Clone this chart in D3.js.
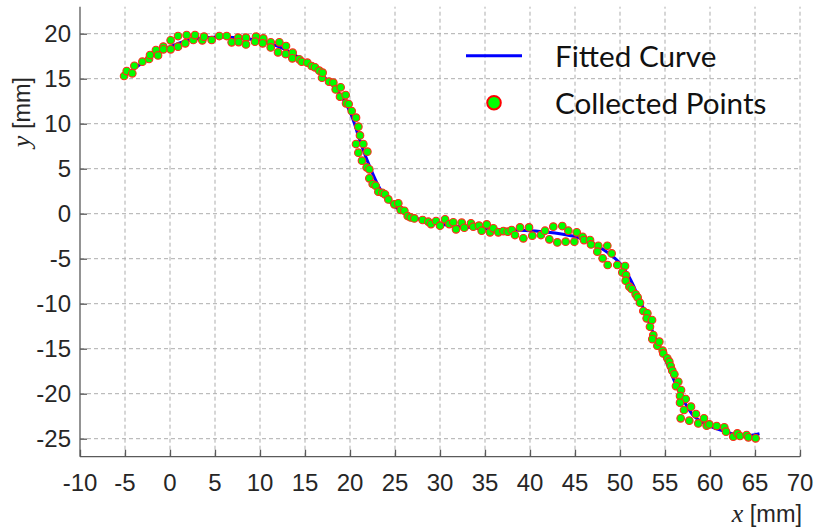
<!DOCTYPE html>
<html>
<head>
<meta charset="utf-8">
<script src="https://cdn.jsdelivr.net/npm/d3@7"></script>
<style>
  html, body { margin: 0; padding: 0; background: #fff; }
  svg { display: block; }
</style>
</head>
<body>
<svg id="chart" width="817" height="529"></svg>
<script>
// Axis ticks
const xTicks = [-10, -5, 0, 5, 10, 15, 20, 25, 30, 35, 40, 45, 50, 55, 60, 65, 70];
const yTicks = [20, 15, 10, 5, 0, -5, -10, -15, -20, -25];

// Fitted curve samples [x, y] in mm
const curvePoints = [
  [-5.2, 15.15], [-4, 16.1], [-3, 16.8], [-2, 17.5], [-1, 18.1], [0, 18.55], [1, 18.95],
  [2, 19.25], [3, 19.45], [4, 19.58], [5, 19.62], [6, 19.62], [7, 19.58], [8, 19.5],
  [9, 19.38], [10, 19.2], [11, 18.95], [12, 18.6], [13, 18.15], [14, 17.55], [15, 16.9],
  [16, 16.15], [17, 15.3], [18, 14.35], [19, 13.1], [19.5, 12.3], [20, 11.3], [20.5, 10.0],
  [21, 8.4], [21.5, 7.0], [22, 5.7], [22.5, 4.5], [23, 3.4], [23.5, 2.5], [24, 1.8],
  [24.5, 1.25], [25, 0.8], [26, 0.1], [27, -0.35], [28, -0.7], [29, -0.95], [30, -1.15],
  [32, -1.4], [34, -1.6], [36, -1.72], [38, -1.82], [40, -1.9], [42, -2.05], [43.5, -2.25],
  [45, -2.55], [46, -2.9], [47, -3.3], [48, -3.9], [49, -4.6], [50, -5.5], [50.5, -6.2],
  [51, -7.0], [51.5, -8.0], [52, -9.2], [52.5, -10.3], [53, -11.5], [53.5, -12.8],
  [54, -14.0], [54.5, -15.1], [55, -16.1], [55.5, -17.3], [56, -18.5], [56.5, -19.6],
  [57, -20.6], [57.5, -21.5], [58, -22.25], [58.5, -22.75], [59, -23.1], [60, -23.6],
  [61, -24.0], [62, -24.3], [63, -24.55], [64, -24.65], [65, -24.55], [65.5, -24.45]
];

// Collected points [x, y] in mm
const collectedPoints = [
  [-5.1, 15.3], [-4.81, 15.85], [-4.19, 15.6], [-3.96, 16.44], [-3.07, 16.89], [-2.33, 17.19],
  [-2.22, 17.63], [-1.56, 18.19], [-1.33, 17.59], [-0.74, 18.56], [-0.74, 18.26], [0.07, 19.26],
  [0.07, 18.26], [0.89, 19.74], [0.89, 18.56], [1.70, 18.93], [1.85, 19.85], [2.59, 19.3],
  [2.78, 19.85], [3.59, 19.26], [3.78, 19.67], [4.63, 19.3], [5.48, 19.74], [6.30, 19.74],
  [6.85, 19.04], [7.59, 19.56], [7.63, 19.07], [8.44, 19.56], [8.44, 18.81],
  [9.56, 19.67], [9.44, 19.11], [10.37, 19.48], [10.30, 18.93], [11.19, 19.04], [11.19, 18.48],
  [12.15, 19.04], [12.0, 17.93], [12.89, 18.63], [12.85, 17.74], [13.63, 17.89], [13.59, 17.26],
  [14.37, 17.15], [14.63, 16.89], [15.26, 16.78], [15.74, 16.41], [16.11, 16.26], [16.59, 15.89],
  [16.89, 15.11], [16.96, 15.67], [17.67, 14.67], [18.15, 14.56], [18.41, 13.81], [18.96, 14.04],
  [18.89, 13.0], [19.52, 13.19], [19.56, 12.26], [19.85, 12.19], [20.19, 11.41], [20.67, 10.67],
  [20.93, 9.67], [21.11, 8.70], [20.67, 7.74], [21.48, 7.74], [20.93, 6.78], [21.93, 6.89],
  [21.33, 5.89], [21.85, 5.15], [22.15, 4.93], [22.15, 3.93],
  [22.52, 3.3], [22.85, 3.11], [23.15, 2.44], [23.59, 2.33], [23.89, 2.15], [24.26, 1.59],
  [24.93, 1.04], [25.37, 1.15], [25.63, 0.41], [26.04, 0.33], [26.41, -0.26], [26.74, -0.41],
  [27.15, -0.52], [28.07, -0.7], [28.7, -0.89], [29.0, -1.15], [29.56, -0.81], [30.0, -1.33],
  [30.56, -0.63], [31.04, -1.15], [31.48, -0.96], [31.78, -1.74], [32.41, -1.0], [32.7, -1.56],
  [33.44, -1.07], [33.7, -1.44], [34.33, -1.33], [34.63, -1.89], [35.19, -1.19], [35.56, -2.07],
  [35.93, -1.63], [36.48, -2.07], [37.04, -1.93], [37.52, -2.0], [37.96, -1.81], [38.33, -2.37],
  [38.89, -1.52], [39.26, -2.74], [39.89, -1.52],
  [40.26, -2.44], [41.22, -2.37], [41.67, -1.89], [42.15, -2.85], [42.59, -1.44], [43.04, -3.19],
  [43.59, -1.37], [43.96, -3.11], [44.26, -1.89], [44.93, -3.11], [45.19, -2.07], [45.85, -2.56],
  [46.0, -2.93], [46.67, -2.93], [46.78, -3.41], [47.59, -3.56], [47.48, -4.22], [48.59, -3.56],
  [49.07, -4.41], [48.07, -4.96], [48.63, -5.70], [49.70, -5.70], [50.56, -5.81], [50.26, -6.52],
  [50.67, -6.81], [50.63, -7.44], [51.04, -8.11], [51.30, -8.37], [51.74, -8.96], [51.96, -9.30],
  [52.22, -9.89],
  [52.59, -10.81], [53.04, -11.07], [52.96, -11.63], [53.33, -12.56], [53.56, -11.81], [53.70, -13.48],
  [53.59, -13.93], [54.15, -14.67], [54.37, -14.22], [54.74, -15.22], [54.81, -15.52], [55.26, -16.07],
  [55.48, -16.44], [55.63, -16.93], [55.81, -17.44], [56.04, -17.85], [56.48, -18.67], [56.22, -19.15],
  [56.78, -19.59], [56.67, -20.26], [57.30, -20.59], [56.67, -21.0], [57.11, -21.81], [57.89, -21.44],
  [56.74, -22.74], [57.70, -23.0], [58.44, -22.26], [58.70, -23.30], [59.33, -22.74], [59.63, -23.56],
  [59.93, -23.41], [60.74, -23.59], [61.59, -23.74], [61.78, -24.22], [62.59, -24.78], [63.04, -24.41],
  [63.33, -24.70], [64.07, -24.59], [64.26, -24.85], [65.07, -24.96]
];

const legendItems = ["Fitted Curve", "Collected Points"];

const svg = d3.select("#chart");
const plotLeft = 80, plotRight = 800, plotTop = 6.7, plotBottom = 456.7;

const x = d3.scaleLinear().domain([-10, 70]).range([plotLeft, plotRight]);
const y = d3.scaleLinear().domain([-27, 23]).range([plotBottom, plotTop]);

const tickFont = "'Liberation Sans', Arial, Helvetica, sans-serif";
const serifFont = "'Liberation Serif', 'Times New Roman', serif";
const textColor = "#262626";
const axisColor = "#5a5a5a";
const tickSize = 24;

// Grid
const grid = svg.append("g").attr("stroke", "#adadad").attr("stroke-width", 1)
  .attr("stroke-dasharray", "4,3").attr("fill", "none");
grid.selectAll("line.v").data(xTicks.filter(d => d > -10)).join("line").attr("class", "v")
  .attr("x1", d => x(d)).attr("x2", d => x(d))
  .attr("y1", plotBottom).attr("y2", plotTop);
grid.selectAll("line.h").data(yTicks).join("line").attr("class", "h")
  .attr("x1", plotLeft).attr("x2", plotRight)
  .attr("y1", d => y(d)).attr("y2", d => y(d));

// Axes with inward ticks
const xAxis = svg.append("g").attr("transform", `translate(0,${plotBottom})`)
  .call(d3.axisBottom(x).tickValues(xTicks).tickSize(-7).tickSizeOuter(0).tickFormat(""));
const yAxis = svg.append("g").attr("transform", `translate(${plotLeft},0)`)
  .call(d3.axisLeft(y).tickValues(yTicks).tickSize(-7).tickSizeOuter(0).tickFormat(""));
[xAxis, yAxis].forEach(a => {
  a.select(".domain").attr("stroke", axisColor).attr("stroke-width", 1.3);
  a.selectAll(".tick line").attr("stroke", axisColor).attr("stroke-width", 1.3);
});
yAxis.select(".domain").attr("d", `M0,${plotTop}V${plotBottom}`);
xAxis.select(".domain").attr("d", `M${plotLeft},0H${plotRight}`);

// Tick labels
svg.append("g").selectAll("text").data(xTicks).join("text")
  .attr("x", d => x(d)).attr("y", 491)
  .attr("text-anchor", "middle")
  .attr("font-family", tickFont).attr("font-size", tickSize).attr("fill", textColor)
  .text(d => d);
svg.append("g").selectAll("text").data(yTicks).join("text")
  .attr("x", 71).attr("y", d => y(d) + 8.6)
  .attr("text-anchor", "end")
  .attr("font-family", tickFont).attr("font-size", tickSize).attr("fill", textColor)
  .text(d => d);

// Axis titles
const xTitle = svg.append("text")
  .attr("x", 802).attr("y", 522)
  .attr("text-anchor", "end").attr("font-family", tickFont).attr("font-size", 23.5)
  .attr("fill", textColor);
xTitle.append("tspan").attr("font-family", serifFont)
  .attr("font-style", "italic").attr("font-size", 26).text("x");
xTitle.append("tspan").text(" [mm]");

const yTitle = svg.append("text")
  .attr("transform", `translate(30,112) rotate(-90)`)
  .attr("text-anchor", "middle").attr("font-family", tickFont).attr("font-size", 23.5)
  .attr("fill", textColor);
yTitle.append("tspan").attr("font-family", serifFont)
  .attr("font-style", "italic").attr("font-size", 26).text("y");
yTitle.append("tspan").text(" [mm]");

// Fitted curve
const line = d3.line().x(d => x(d[0])).y(d => y(d[1])).curve(d3.curveCatmullRom);
svg.append("path").datum(curvePoints)
  .attr("d", line).attr("fill", "none")
  .attr("stroke", "#0000ff").attr("stroke-width", 3);

// Collected points
svg.append("g").selectAll("circle").data(collectedPoints).join("circle")
  .attr("cx", d => x(d[0])).attr("cy", d => y(d[1]))
  .attr("r", 3.8)
  .attr("fill", "#00ff00").attr("stroke", "#ff2a1a").attr("stroke-width", 1.1);

// Legend
const legend = svg.append("g");
legend.append("line").attr("x1", 466).attr("x2", 522).attr("y1", 55.7).attr("y2", 55.7)
  .attr("stroke", "#0000ff").attr("stroke-width", 3);
legend.append("circle").attr("cx", 494).attr("cy", 102.7).attr("r", 6.8)
  .attr("fill", "#00ff00").attr("stroke", "#ff0000").attr("stroke-width", 2);
legend.selectAll("text").data(legendItems).join("text")
  .attr("transform", (d, i) => `translate(555,${66.7 + i * 47.6}) scale(1.06,1)`)
  .attr("font-family", "Lato, 'Open Sans', sans-serif").attr("font-size", 28)
  .attr("fill", "#111")
  .text(d => d);
</script>
</body>
</html>
